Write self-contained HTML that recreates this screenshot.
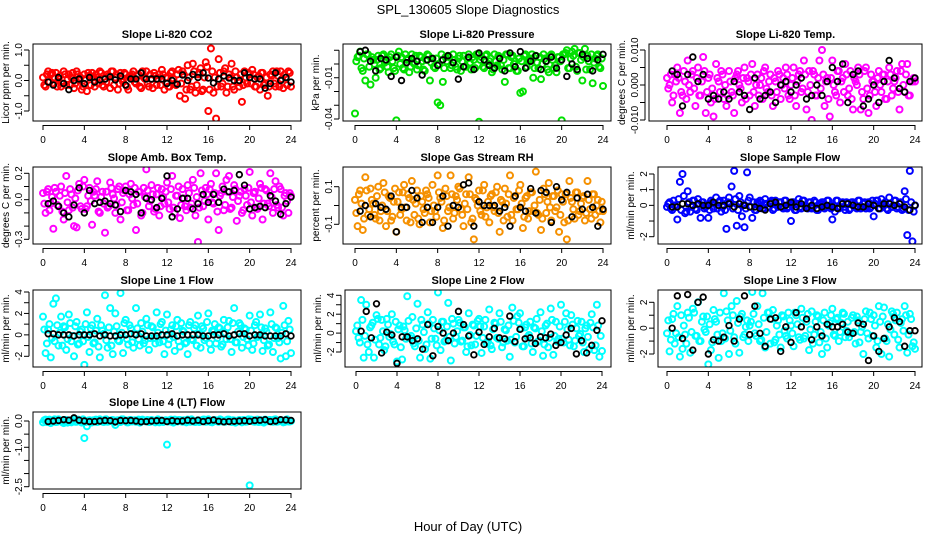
<!DOCTYPE html>
<html><head><meta charset="utf-8">
<style>
html,body{margin:0;padding:0;background:#fff;}
svg{display:block;font-family:"Liberation Sans",Arial,sans-serif;}
</style></head>
<body>
<svg id="chart" width="936" height="540" viewBox="0 0 936 540">
<rect x="0" y="0" width="936" height="540" fill="#fff"/>
<text x="468" y="14" text-anchor="middle" font-size="13">SPL_130605  Slope Diagnostics</text>
<text x="468" y="531" text-anchor="middle" font-size="13">Hour of Day (UTC)</text>
</svg>
<script>
const hours = [0,0.25,0.5,0.75,1,1.25,1.5,1.75,2,2.25,2.5,2.75,3,3.25,3.5,3.75,4,4.25,4.5,4.75,5,5.25,5.5,5.75,6,6.25,6.5,6.75,7,7.25,7.5,7.75,8,8.25,8.5,8.75,9,9.25,9.5,9.75,10,10.25,10.5,10.75,11,11.25,11.5,11.75,12,12.25,12.5,12.75,13,13.25,13.5,13.75,14,14.25,14.5,14.75,15,15.25,15.5,15.75,16,16.25,16.5,16.75,17,17.25,17.5,17.75,18,18.25,18.5,18.75,19,19.25,19.5,19.75,20,20.25,20.5,20.75,21,21.25,21.5,21.75,22,22.25,22.5,22.75,23,23.25,23.5,23.75,24];
const hours2 = [0.125,0.375,0.625,0.875,1.125,1.375,1.625,1.875,2.125,2.375,2.625,2.875,3.125,3.375,3.625,3.875,4.125,4.375,4.625,4.875,5.125,5.375,5.625,5.875,6.125,6.375,6.625,6.875,7.125,7.375,7.625,7.875,8.125,8.375,8.625,8.875,9.125,9.375,9.625,9.875,10.125,10.375,10.625,10.875,11.125,11.375,11.625,11.875,12.125,12.375,12.625,12.875,13.125,13.375,13.625,13.875,14.125,14.375,14.625,14.875,15.125,15.375,15.625,15.875,16.125,16.375,16.625,16.875,17.125,17.375,17.625,17.875,18.125,18.375,18.625,18.875,19.125,19.375,19.625,19.875,20.125,20.375,20.625,20.875,21.125,21.375,21.625,21.875,22.125,22.375,22.625,22.875,23.125,23.375,23.625,23.875];
const hoursBlack = [0.5,1,1.5,2,2.5,3,3.5,4,4.5,5,5.5,6,6.5,7,7.5,8,8.5,9,9.5,10,10.5,11,11.5,12,12.5,13,13.5,14,14.5,15,15.5,16,16.5,17,17.5,18,18.5,19,19.5,20,20.5,21,21.5,22,22.5,23,23.5,24];
const xTicks = [0,4,8,12,16,20,24];

const co2All = [.1,-.2,.3,.2, -.1,.25,.05,-.2, .3,-.15,.2,.1, -.25,.3,0,-.3, .2,-.35,.15,.25, -.2,.1,.3,-.15, .05,.2,-.25,.3, .1,-.3,.25,-.05, .2,-.3,.15,.3, -.1,.2,-.25,.1, .3,-.2,.05,.25, -.15,.2,.35,-.3, .1,-.2,.3,-.1, .2,-.5,.3,-.6, .5,-.3,.55,-.4, .2,.4,-.3,.6, -1.0,1.05,-.4,-1.25, .7,-.2,.3,-.4, .2,.55,-.3,.1, -.2,-.7,.3,-.1, .2,.35,-.2,.1, -.3,.25,-.1,-.5, .2,.3,-.2,.15, .3,-.25,.1,.3, -.2];
const co2Band = [-.15,.2,-.05,.25, .1,-.2,.15,-.1, .2,.05,-.15,.25, -.1,.2,.1,-.2, .05,.25,-.15,.1, .2,-.1,.25,-.2, -.05,.15,.3,-.15, .2,-.1,.05,.25, -.2,.1,.2,-.05, .15,-.2,.3,.05, -.1,.2,-.25,.15, .05,-.15,.2,.1, -.2,.25,.05,-.15, .35,-.1,.2,-.3, .1,-.2,.3,-.15, .25,-.35,.1,.45, -.3,.3,.1,-.2, .25,-.1,.4,-.2, .1,-.2,.3,-.05, .2,-.15,.1,.25, -.1,.2,-.2,.15, .25,-.15,.1,-.2, .15,-.1,.3,-.2, .05,.2,-.15,.25];
const co2Avg = [-0.05,-0.15,0.1,-0.1,-0.3,0,0.05,-0.1,0.1,-0.05,0.02,0.05,0.12,0.02,0.15,-0.15,0.05,0.05,0.25,0.05,0.05,0.05,0.05,-0.1,0,-0.12,0.18,0,0.2,0.1,0.25,0.08,-0.08,0.05,0.15,0.08,0,0,0.25,0.1,0.05,0.05,-0.25,-0.1,0.25,0,0.1,-0.05];

const pressAllMilli = [-36,5,9,-5, -12,7,-15,3, -10,6,-3,7, 2,-6,7,-3, -41,9,5,-4, 3,-6,7,0, -4,6,2,-5, 7,-12,4,-3, -28,-30,-13,5, 6,-3,7,-2, 4,-5,6,-2, 7,-4,3,7, -42,5,-3,7, 2,-6,7,-1, 5,-4,-13,7, -3,6,2,-5, -21,-20,7,3, 4,-10,6,-3, -11,7,2,-6, 7,-3,-6,5, -41,7,10,-3, 9,11,-5,8, -12,11,6,-4, -14,4,7,-3, -16];
const pressBandMilli = [2,6,-3,4, 7,-2,5,0, 3,-4,6,1, -2,5,2,-5, 6,0,-3,7, 4,-2,1,6, -1,5,-4,3, 6,1,-2,4, 0,7,-3,2, 5,-1,3,-4, 6,2,-2,4, 1,5,-3,7, 3,-2,6,0, 4,-4,2,6, -1,3,7,-3, 5,0,-5,4, 2,6,-2,3, 7,-3,1,5, 0,4,-4,6, 3,-1,5,2, 7,8,-3,4, 6,-2,8,3, 5,-4,2,7, 1,6,-2,4];
const pressAvgMilli = [9,10,2,-5,4,3,-9,5,-12,1,4,2,-8,3,4,-1,3,6,1,-11,-2,5,-4,8,3,-1,-3,4,-5,8,-2,9,-3,2,6,-4,2,5,-3,3,-9,0,-4,7,4,-5,3,7];

const licorTempAllMilli = [2,0,-5,3, 5,-8,-3,1, 7,-2,4,-6, 5,-3,8,-8, 2,-5,-9,6, 1,4,-4,-6, 4,-2,-8,3, 0,-5,5,2, -3,6,-6,3, 0,-4,5,-2, 3,-6,1,4, -4,2,5,-3, 0,5,-6,3, -2,7,-7,4, -10,3,-3,7, 10,-6,2,-9, 7,-2,4,-5, 2,6,-3,4, -7,1,5,-7, -4,5,-8,3, 1,-6,4,-2, 3,-4,5,-3, 1,4,-7,6, -2,6,-3,1, 1];
const licorTempBandMilli = [-1,3,-3,1, 2,-2,4,-4, 0,3,-1,2, -3,1,4,-2, 3,-1,-4,2, -2,3,0,-3, 1,-3,2,4, -1,2,-4,1, 3,-2,0,-3, 2,4,-1,1, -3,2,-2,3, 0,-1,3,-4, 2,-3,1,4, -1,3,-2,0, 4,-3,2,-1, 3,1,-4,2, 0,-3,4,1, -2,3,-1,-4, 2,0,3,-2, 4,-1,-3,1, -2,2,0,3, -4,1,3,-1, 2,-2,4,0, 3,-3,1,2];
const licorTempAvgMilli = [4,3,-6,3,8,1,3,-4,-3,-4,-2,-4,1,-2,-3,-7,2,-4,-3,-2,-5,0,1,-2,0,2,-4,-3,0,-3,1,5,1,6,-5,3,4,-6,-4,0,-5,1,7,2,-1,-2,1,2];

const ambTempAllCenti = [5,-10,8,-3, -22,6,-5,10, -15,18,-8,4, -20,-21,12,-7, 15,-5,9,-19, 3,14,-10,6, -25,-6,13,4, -10,8,-15,5, 10,-8,12,-4, -23,6,-12,9, 23,-5,11,-9, 4,-12,8,-3, 13,-7,18,-10, 3,-14,8,-5, 11,-6,15,-12, -32,20,-5,9, -15,12,-3,20, -23,5,-8,15, 18,-6,11,-16, 3,-10,8,-4, 21,-12,6,-7, 12,-15,8,-3, 20,-10,14,-6, 8,-12,5,-10, 3];
const ambTempBandCenti = [-3,6,-8,2, 9,-4,3,-9, 5,-2,8,-6, 1,7,-5,10, -7,3,-1,6, 8,-9,2,-3, 6,-5,9,1, -4,10,-2,7, -8,4,1,9, -3,6,-10,2, 7,-1,4,-7, 9,-5,2,6, -2,8,-6,3, 10,-4,1,-8, 5,-3,9,2, -6,7,-1,4, 8,-2,5,-9, 3,10,-4,6, -7,2,8,-1, 6,-8,3,9, -2,5,-6,1, 9,-3,7,-5, 2,8,-4,10, -6,3,-1,5];
const ambTempAvgCenti = [-3,-1,-5,-10,-13,-4,9,-10,7,-3,-2,-1,-3,-4,-9,7,6,4,-10,1,0,-6,1,18,-13,-7,1,1,-7,-3,4,-2,4,-2,8,6,7,19,11,-7,-6,-5,-6,3,-1,-11,-3,2];

const rhAllCenti = [3,-11,8,-13, 15,-5,9,1, -7,10,-3,12, -11,5,-8,2, -14,7,-2,11, -8,4,13,-5, 8,-10,2,-4, 6,-9,11,-3, 16,4,-12,9, -3,16,-7,5, 10,-2,-11,6, 15,-9,-18,3, 8,-5,11,-1, -9,6,-3,10, -14,2,9,-6, 16,-8,5,-2, 11,-12,4,-7, 7,-3,18,-5, -13,9,-4,12, -8,5,-1,-14, 6,-9,-18,13, 2,-7,7,-3, 4,-8,13,-2, 6,-5,3,-9, -3];
const rhBandCenti = [-4,6,1,-7, 8,-2,3,-5, 5,-8,0,7, -3,4,-6,9, 2,-5,7,-1, 6,-9,3,1, -7,5,-2,8, 4,-3,0,-6, 7,2,-8,5, -1,6,-4,3, 9,-5,1,-2, 6,-7,4,0, -3,8,-6,2, 5,-1,7,-4, 3,-8,1,6, -5,4,-2,8, 1,-6,5,-3, 7,0,-4,3, -7,6,2,-1, 5,-3,8,-5, 2,6,-8,4, -2,7,-5,1, 5,-4,3,-7, 6,0,-3,2];
const rhAvgCenti = [-3,0,-6,1,-1,-2,5,-14,-1,-1,8,4,-9,-1,-9,-1,5,-11,0,-1,11,12,-11,2,0,0,0,-3,-1,-11,5,-1,-3,9,-4,8,7,-9,10,3,7,-6,4,-2,6,-1,-11,-2];

const sampleAllDeci = [-1,2,-3,0, -9,15,20,-5, 9,-4,3,-2, 4,-8,2,-1, -8,3,-2,5, 2,-4,3,-15, 5,12,22,-13, 6,-7,-14,21, 5,-8,-3,2, 3,-2,4,-1, 2,-3,3,-1, 2,-2,3,-1, -10,2,-3,4, -2,3,-1,2, -2,3,-3,1, 2,-2,3,-1, -9,-4,3,-1, 2,-3,1,-2, 2,-1,3,-2, 1,-2,2,-1, -7,3,-2,4, 1,-2,5,-1, 3,-2,1,-3, 9,-19,22,-23, 0];
const sampleBandDeci = [1,-2,3,-1, 4,-3,6,-4, 2,-1,3,-3, 1,2,-2,0, -3,2,1,-2, 3,-1,-3,2, 1,-2,4,-3, 2,0,-2,3, -1,2,-3,1, 2,-2,1,-1, 3,-2,0,2, -1,3,-2,1, 2,-3,1,-1, 3,0,-2,2, -1,2,-3,1, 2,-1,3,-2, 0,3,-2,1, -1,2,-3,2, 1,-2,3,-1, 2,-1,-2,3, 1,3,-2,0, 2,-3,1,-1, 3,-1,2,-2, 4,-3,2,-4];
const sampleAvgDeci = [-1,-1,1,1,0,1,0,0,2,0,0,1,-1,1,0,-1,-1,-2,-3,1,2,-1,0,2,-1,1,-2,0,-2,-1,0,-1,-2,1,1,0,-1,-1,1,0,-2,1,1,0,1,-1,-3,0];

const line1AllDeci = [17,-17,5,-21, 29,34,-10,17, 8,-14,19,-6, -20,12,-8,5, -28,21,-16,9, -7,15,-21,4, 37,-12,25,-18, 20,-5,39,-17, 14,-9,6,-12, 25,-4,11,-8, 15,-14,8,-3, 21,-7,12,-18, 19,-4,9,-15, 14,-11,4,-8, -18,12,-5,9, 18,-12,6,-3, 20,-14,3,-8, 7,-11,14,-4, 13,-16,25,-7, 11,-12,6,-4, 18,-14,9,-2, 19,-15,6,-10, 21,-16,7,-3, -22,27,-20,13, -17];
const line1BandDeci = [5,-8,10,-3, -6,9,2,-10, 7,-4,11,-1, 8,-9,3,-6, 10,-2,6,-8, 4,-11,9,1, -5,7,-10,3, 8,-6,2,11, -4,9,-7,1, 6,-10,3,-5, 9,-3,7,-8, 2,10,-6,4, -9,5,-2,8, -6,11,3,-7, 9,-4,6,-10, 1,8,-5,12, -8,4,10,-3, 6,-9,2,7, -4,11,-7,3, 9,-2,5,-10, 4,-8,12,-1, 7,-5,3,-9, 10,-3,6,-7, 2,9,-6,5];
const line1AvgDeci = [1,1,0,0,0,-1,0,0,0,1,-1,0,-1,-1,0,0,1,0,1,-1,-1,-1,0,0,1,-1,0,0,0,0,-1,-1,0,0,1,-1,0,1,1,-1,0,0,-1,-1,-1,-1,1,-1];

const line2AllDeci = [2,-5,35,-26, 30,-20,8,-26, 19,-12,14,-18, 15,-4,20,-12, -30,8,-28,3, 39,-5,17,-14, 31,-26,9,-17, 22,-27,14,-6, 43,-18,12,-8, 32,-29,10,-4, 14,-9,6,-20, 21,-13,8,-3, 15,-21,7,-11, 25,-17,11,-5, 21,-15,4,-8, -25,27,-10,18, 21,-14,6,-4, 12,-20,5,-9, 22,-24,8,-15, 26,-23,12,-6, 30,-10,21,-7, 19,-14,5,-3, 12,-20,8,-17, 20,-18,30,-25, -19];
const line2BandDeci = [8,-10,14,-3, -12,6,11,-7, 15,-5,2,-14, 9,-1,-9,12, 4,-15,7,-6, 13,-3,-11,5, -8,14,1,-12, 10,-6,5,-13, 3,12,-9,7, -4,15,-11,2, 11,-8,6,-14, -2,9,-12,13, 7,-5,14,-9, -13,4,10,-6, 12,-10,3,8, -7,13,-4,11, 5,-14,9,-2, -11,6,15,-8, 2,-12,10,-5, 14,-3,-9,7, -6,12,4,-13, 9,-8,13,-1, -10,5,-4,11, 6,-13,8,-3];
const line2AvgDeci = [2,23,-5,31,-21,1,-2,-32,-4,-4,-8,-6,-17,9,-24,7,0,-8,0,23,9,-3,-23,1,-12,-4,5,-5,-6,18,-9,4,-6,-5,-11,-4,-5,-1,-13,-10,-2,5,-22,-8,-21,-13,3,13];

const line3AllDeci = [-4,-18,7,-12, 17,-22,-16,-5, 12,-19,15,-6, 20,-10,9,-3, -28,-17,14,5, -23,-10,27,13, -20,17,-7,21, -19,11,-5,6, 2,28,-4,17, -10,27,-15,12, -12,14,-9,6, -15,9,-6,12, 2,-14,10,-7, 15,-8,5,-17, 13,-5,10,-11, -20,12,-15,4, 15,-6,8,-3, 12,-7,5,-4, 10,-12,6,-3, -20,13,-8,7, 10,-15,17,-20, 16,-10,-22,13, -5,12,-15,7, 17,-19,11,-14, -16];
const line3BandDeci = [6,-9,11,-4, -7,10,2,-12, 8,-3,12,-6, -10,5,-1,9, 3,-11,7,-5, 12,-4,-8,6, -2,10,-12,4, 9,-7,1,-10, 5,11,-6,3, -9,8,-3,12, 7,-11,2,-5, 10,-2,-8,6, -4,12,3,-9, 8,-6,11,-1, -12,5,9,-3, 6,-8,2,10, -5,7,-10,4, 11,-2,-7,8, -3,9,-11,1, 7,-4,12,-6, 2,-10,5,9, -8,3,-1,11, 6,-9,4,-2, 10,-5,7,-11];
const line3AvgDeci = [0,25,-8,26,-17,20,24,-20,-9,-10,-7,2,-10,7,25,-5,17,-4,-14,7,8,-18,1,-11,12,1,7,-9,1,-6,3,1,1,3,-3,-4,4,3,-25,-6,-18,-8,1,8,5,-14,-2,-2];

const line4AllCenti = [-5,5,0,-8, 3,-4,6,0, -8,4,0,-5, 8,-3,2,-6, -65,-20,3,-5, 2,-4,6,-2, 5,-3,0,4, -15,3,-4,6, 2,-5,4,0, -3,5,-2,3, 0,-4,4,-2, 3,-5,2,-1, -90,3,-4,5, -2,4,-3,1, 5,-3,2,-4, 3,-2,5,-3, 6,-4,2,0, -3,4,-2,3, 5,-4,2,-3, 4,-5,3,-2, -245,4,-3,5, 2,-4,5,-1, 4,-3,6,-2, 3,-5,4,-2, 0];
const line4BandCenti = [3,-4,5,-2, 6,-3,1,-5, 4,-6,2,0, -3,5,-1,6, -4,2,-6,3, 5,-2,0,-4, 6,-1,3,-5, 2,-3,6,0, -5,4,-2,3, 1,-6,5,-1, 4,-3,2,-5, 6,0,-4,3, -2,5,-6,1, 4,-1,3,-5, 2,6,-3,0, -4,3,5,-2, 1,-5,4,-1, 6,-2,-3,5, 0,3,-6,2, -1,4,-3,6, 5,-2,1,-4, 3,-6,2,4, -1,5,-3,0, 2,-4,6,-2];
const line4AvgCenti = [-2,0,2,5,3,12,3,0,-2,-2,0,2,1,-3,2,1,2,0,-3,-2,0,1,2,-2,1,-1,0,3,0,3,-2,1,4,-1,-3,-2,-1,0,1,-1,2,3,5,-2,0,5,4,2];

const co2Ticks=[-1,-0.5,0,0.5,1], co2Labels=["-1.0","","0.0","","1.0"];
const pressTicks=[0.01,0,-0.01,-0.02,-0.03,-0.04], pressLabels=["","","-0.01","","","-0.04"];
const tempTicks=[0.01,0.005,0,-0.005,-0.01], tempLabels=["0.010","","0.000","","-0.010"];
const ambTicks=[0.2,0.1,0,-0.1,-0.2,-0.3], ambLabels=["0.2","","0.0","","","-0.3"];
const rhTicks=[0.1,0,-0.1], rhLabels=["0.1","","-0.1"];
const sampleTicks=[2,1,0,-1,-2], sampleLabels=["2","1","0","","-2"];
const l1Ticks=[4,3,2,1,0,-1,-2], l1Labels=["4","","2","","0","","-2"];
const l2Ticks=[4,3,2,1,0,-1,-2], l2Labels=["4","","2","","0","","-2"];
const l3Ticks=[2,1,0,-1,-2], l3Labels=["2","","0","","-2"];
const l4Ticks=[0,-0.5,-1,-1.5,-2,-2.5], l4Labels=["0.0","","-1.0","","","-2.5"];

const NS="http://www.w3.org/2000/svg";
const svg=document.getElementById('chart');
function mk(tag,attrs,parent){const e=document.createElementNS(NS,tag);for(const k in attrs)e.setAttribute(k,attrs[k]);(parent||svg).appendChild(e);return e;}

const panels=[
 {id:'co2',title:'Slope Li-820 CO2',ylab:'Licor ppm per min.',box:[33,44,301,121],xr:[43,291],yr:[1,50,-1,111],ticks:co2Ticks,labels:co2Labels,col:'#ff0000',all:co2All,band:co2Band,avg:co2Avg,sc:1},
 {id:'pressure',title:'Slope Li-820 Pressure',ylab:'kPa per min.',box:[343,44,611,121],xr:[355,603],yr:[0,64,-0.04,119],ticks:pressTicks,labels:pressLabels,col:'#00e000',all:pressAllMilli,band:pressBandMilli,avg:pressAvgMilli,sc:0.001},
 {id:'licor-temp',title:'Slope Li-820 Temp.',ylab:'degrees C per min.',box:[649,44,922,121],xr:[667,915],yr:[0.01,50,-0.01,120],ticks:tempTicks,labels:tempLabels,col:'#ff00ff',all:licorTempAllMilli,band:licorTempBandMilli,avg:licorTempAvgMilli,sc:0.001},
 {id:'amb-temp',title:'Slope Amb. Box Temp.',ylab:'degrees C per min.',box:[33,167,301,244],xr:[43,291],yr:[0.2,173.3,-0.3,239.3],ticks:ambTicks,labels:ambLabels,col:'#ff00ff',all:ambTempAllCenti,band:ambTempBandCenti,avg:ambTempAvgCenti,sc:0.01},
 {id:'gas-rh',title:'Slope Gas Stream RH',ylab:'percent per min.',box:[343,167,611,244],xr:[355,603],yr:[0.1,186.7,-0.1,224.3],ticks:rhTicks,labels:rhLabels,col:'#f59000',all:rhAllCenti,band:rhBandCenti,avg:rhAvgCenti,sc:0.01},
 {id:'sample-flow',title:'Slope Sample Flow',ylab:'ml/min per min.',box:[658,167,922,244],xr:[667,915],yr:[2,174,-2,236.7],ticks:sampleTicks,labels:sampleLabels,col:'#0000ff',all:sampleAllDeci,band:sampleBandDeci,avg:sampleAvgDeci,sc:0.1},
 {id:'line1-flow',title:'Slope Line 1 Flow',ylab:'ml/min per min.',box:[33,290,301,367],xr:[43,291],yr:[4,292,-2,356.3],ticks:l1Ticks,labels:l1Labels,col:'#00ffff',all:line1AllDeci,band:line1BandDeci,avg:line1AvgDeci,sc:0.1},
 {id:'line2-flow',title:'Slope Line 2 Flow',ylab:'ml/min per min.',box:[345,290,611,367],xr:[356,602],yr:[4,295.3,-2,352],ticks:l2Ticks,labels:l2Labels,col:'#00ffff',all:line2AllDeci,band:line2BandDeci,avg:line2AvgDeci,sc:0.1},
 {id:'line3-flow',title:'Slope Line 3 Flow',ylab:'ml/min per min.',box:[658,290,922,367],xr:[667,915],yr:[2,302.3,-2,354],ticks:l3Ticks,labels:l3Labels,col:'#00ffff',all:line3AllDeci,band:line3BandDeci,avg:line3AvgDeci,sc:0.1},
 {id:'line4-flow',title:'Slope Line 4 (LT) Flow',ylab:'ml/min per min.',box:[33,412,301,489],xr:[43,291],yr:[0,421,-2.5,486.7],ticks:l4Ticks,labels:l4Labels,col:'#00ffff',all:line4AllCenti,band:line4BandCenti,avg:line4AvgCenti,sc:0.01}
];

panels.forEach(p=>{
  const [l,t,r,b]=p.box;
  const g=mk('g',{});
  
  
  const xs=h=>p.xr[0]+(h/24)*(p.xr[1]-p.xr[0]);
  const ys=v=>p.yr[1]+(v-p.yr[0])*(p.yr[3]-p.yr[1])/(p.yr[2]-p.yr[0]);
  const clip=mk('clipPath',{id:'clip-'+p.id},g);
  mk('rect',{x:l,y:t,width:r-l,height:b-t},clip);
  const pts=mk('g',{'clip-path':'url(#clip-'+p.id+')'},g);
  const n2=Math.min(hours2.length,p.band.length);
  for(let i=0;i<n2;i++){
    const c=mk('circle',{cx:xs(hours2[i]),cy:ys(p.band[i]*p.sc),r:3,fill:'none',stroke:p.col,'stroke-width':2},pts);
    
    
  }
  const n=Math.min(hours.length,p.all.length);
  for(let i=0;i<n;i++){
    const c=mk('circle',{cx:xs(hours[i]),cy:ys(p.all[i]*p.sc),r:3,fill:'none',stroke:p.col,'stroke-width':2},pts);
    
    
  }
  const m=Math.min(hoursBlack.length,p.avg.length);
  for(let i=0;i<m;i++){
    const c=mk('circle',{cx:xs(hoursBlack[i]),cy:ys(p.avg[i]*p.sc),r:2.8,fill:'none',stroke:'#000','stroke-width':1.8},pts);
    
    
  }
  const frame=mk('rect',{x:l,y:t,width:r-l,height:b-t,fill:'none',stroke:'#000','stroke-width':1},g);
  
  
  const tt=mk('text',{x:(l+r)/2,y:t-6,'text-anchor':'middle','font-size':11,'font-weight':'bold'},g);
  tt.textContent=p.title;
  
  
  const yl=mk('text',{x:0,y:0,'text-anchor':'middle','font-size':10,transform:'translate('+(l-24)+','+((t+b)/2)+') rotate(-90)'},g);
  yl.textContent=p.ylab;
  
  
  mk('line',{x1:xs(0),x2:xs(24),y1:b+4.5,y2:b+4.5,stroke:'#000'},g);
  xTicks.forEach(h=>{
    const X=xs(h);
    mk('line',{x1:X,x2:X,y1:b+4,y2:b+9,stroke:'#000'},g);
    const tx=mk('text',{x:X,y:b+22,'text-anchor':'middle','font-size':10},g);
    tx.textContent=String(h);
    
    
  });
  const yt=p.ticks.map(ys);
  mk('line',{x1:l-4,x2:l-4,y1:Math.min(...yt),y2:Math.max(...yt),stroke:'#000'},g);
  p.ticks.forEach((v,i)=>{
    const Y=ys(v);
    mk('line',{x1:l-9,x2:l-4,y1:Y,y2:Y,stroke:'#000'},g);
    if(p.labels[i]){
      const ty=mk('text',{x:0,y:0,'text-anchor':'middle','font-size':10,transform:'translate('+(l-11)+','+Y+') rotate(-90)'},g);
      ty.textContent=p.labels[i];
      
      
    }
  });
});
</script>
</body></html>
